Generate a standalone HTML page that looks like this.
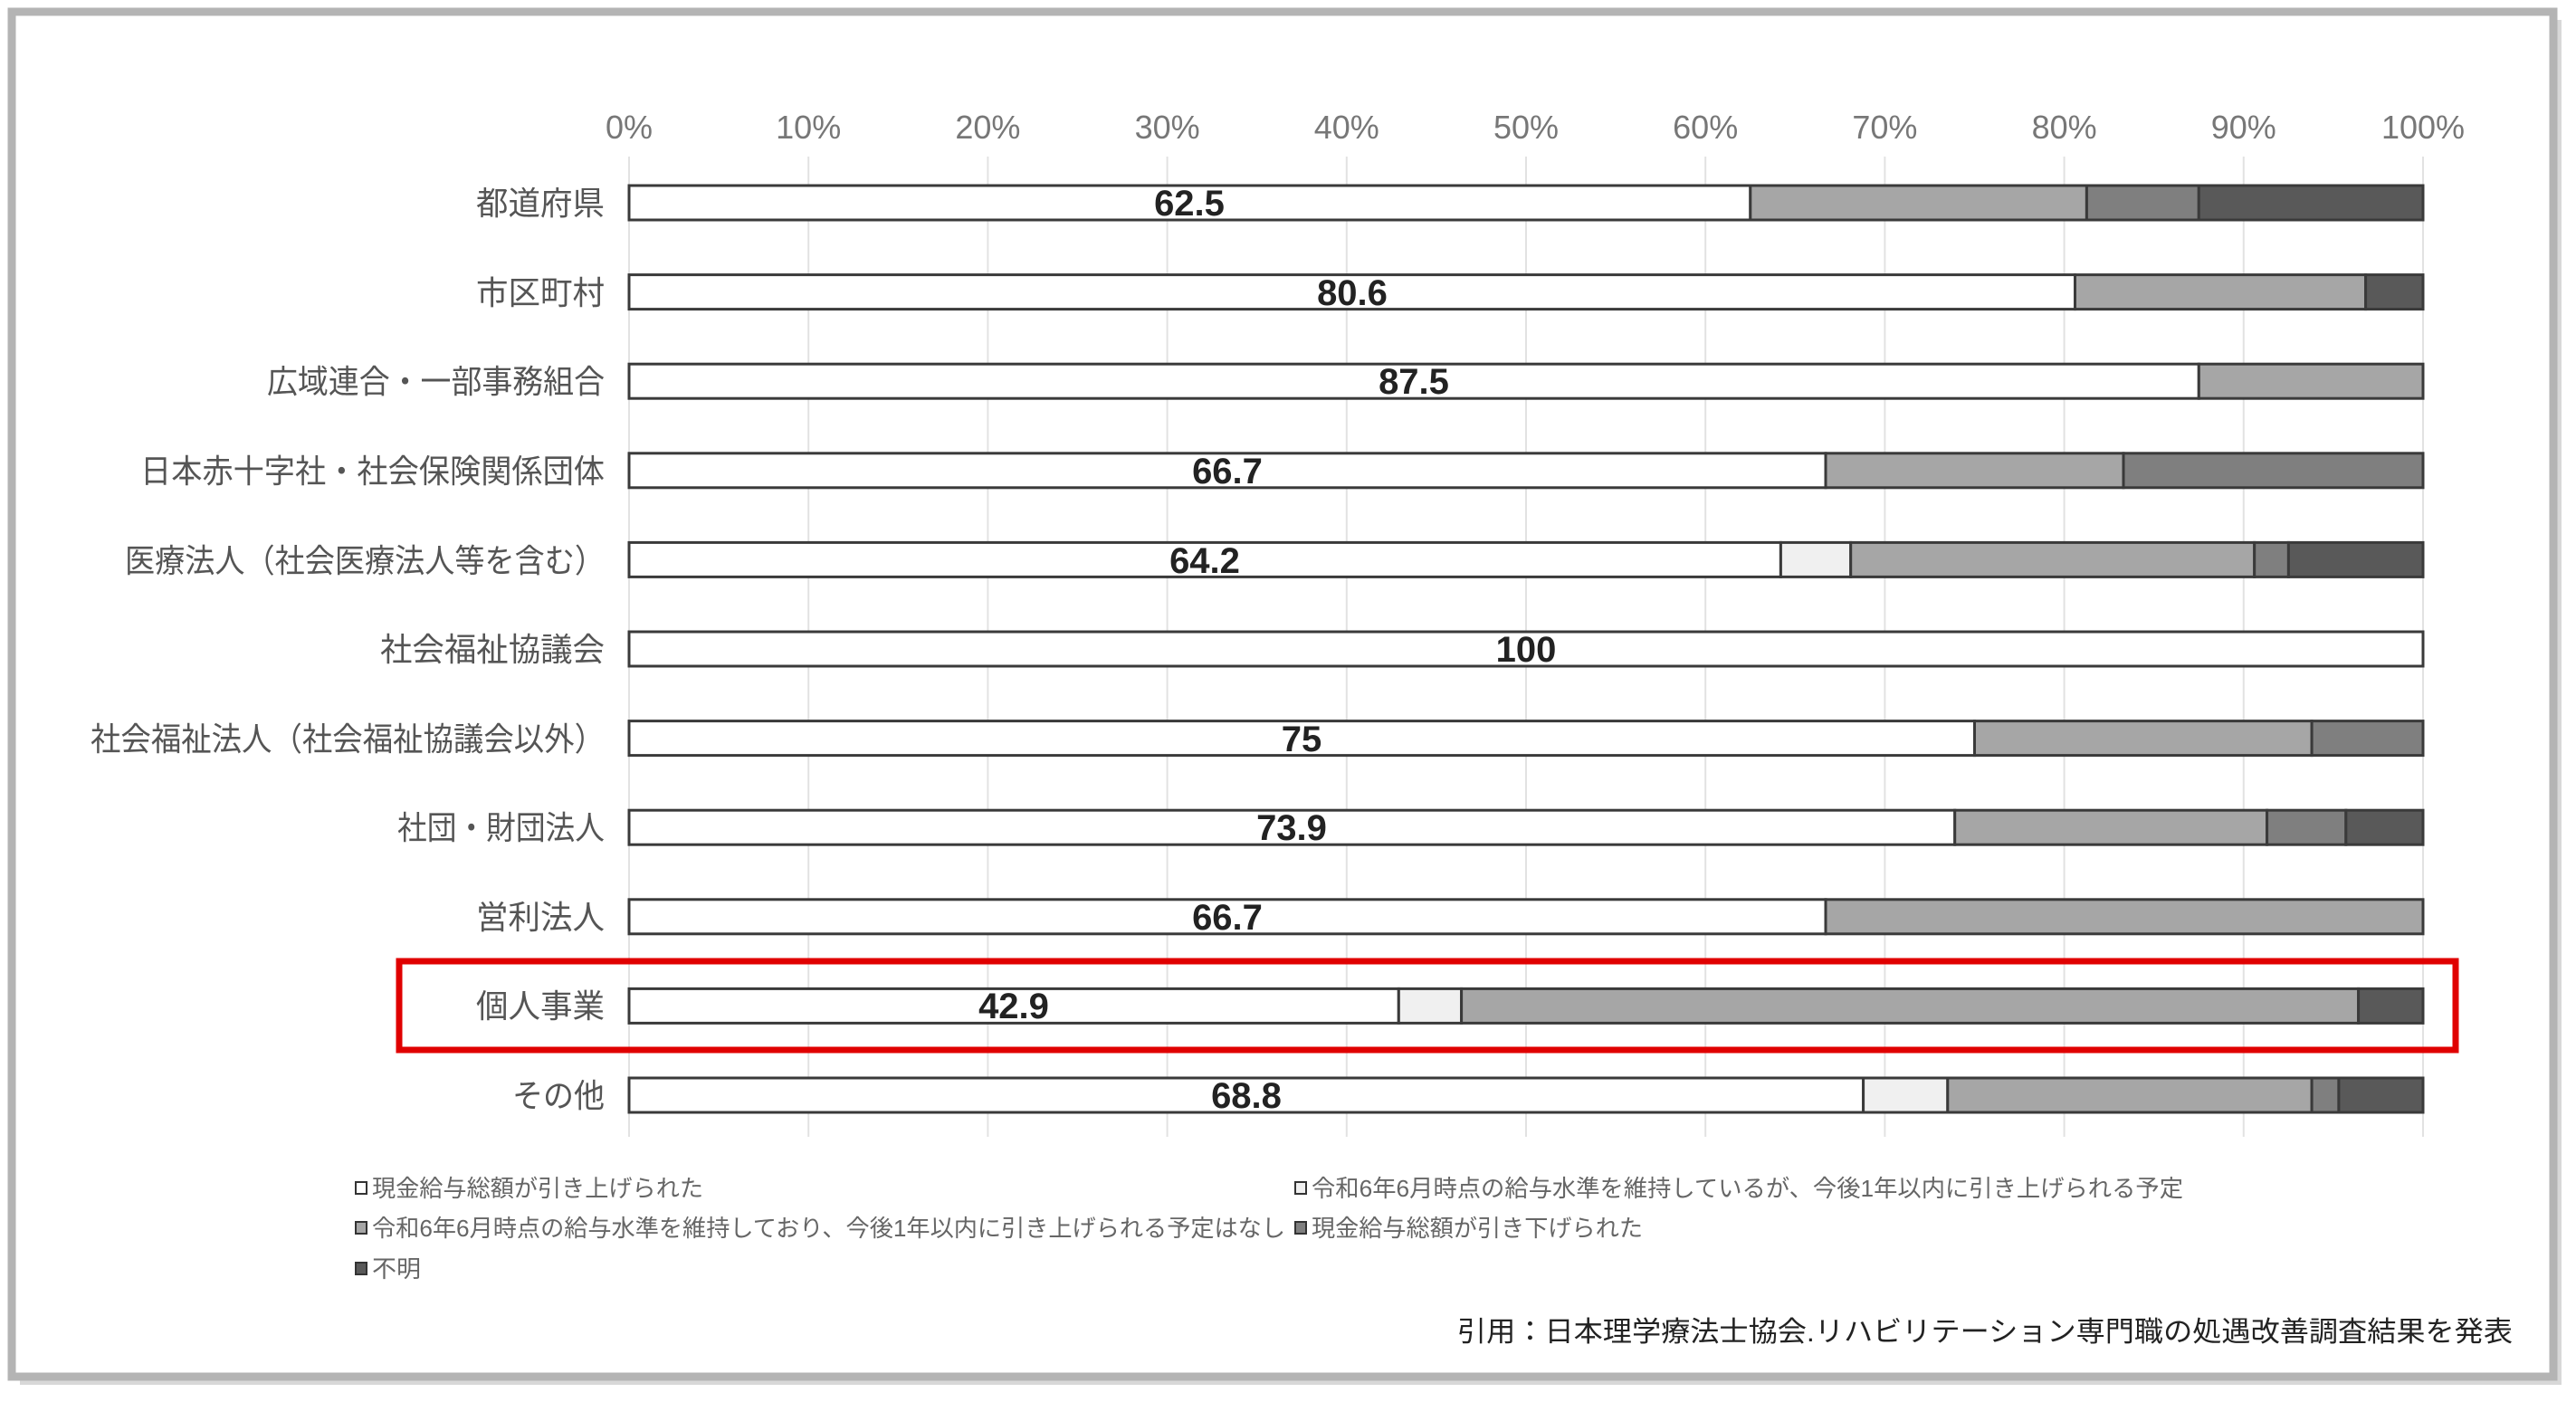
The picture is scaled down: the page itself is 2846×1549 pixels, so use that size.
<!DOCTYPE html>
<html><head><meta charset="utf-8"><style>
html,body{margin:0;padding:0;background:#fff;}
svg{display:block;}
text{font-family:"Liberation Sans","Noto Sans CJK JP",sans-serif;}
</style></head><body>
<svg width="2846" height="1549" viewBox="0 0 2846 1549" xmlns="http://www.w3.org/2000/svg">
<rect width="2846" height="1549" fill="#fff"/>
<!-- shadow + frame -->
<rect x="22" y="22" width="2808" height="1508" fill="#d8d8d8"/>
<rect x="13" y="13" width="2808" height="1508" fill="#fff" stroke="#b4b4b4" stroke-width="9"/>
<!-- gridlines -->
<g stroke="#e2e2e2" stroke-width="2">
<line x1="695" y1="173" x2="695" y2="1256"/><line x1="893.2" y1="173" x2="893.2" y2="1256"/>
<line x1="1091.4" y1="173" x2="1091.4" y2="1256"/><line x1="1289.6" y1="173" x2="1289.6" y2="1256"/>
<line x1="1487.8" y1="173" x2="1487.8" y2="1256"/><line x1="1686" y1="173" x2="1686" y2="1256"/>
<line x1="1884.2" y1="173" x2="1884.2" y2="1256"/><line x1="2082.4" y1="173" x2="2082.4" y2="1256"/>
<line x1="2280.6" y1="173" x2="2280.6" y2="1256"/><line x1="2478.8" y1="173" x2="2478.8" y2="1256"/>
<line x1="2677" y1="173" x2="2677" y2="1256"/>
</g>
<!-- axis labels -->
<g font-size="36" fill="#777" text-anchor="middle">
<text x="695" y="153">0%</text><text x="893.2" y="153">10%</text><text x="1091.4" y="153">20%</text>
<text x="1289.6" y="153">30%</text><text x="1487.8" y="153">40%</text><text x="1686" y="153">50%</text>
<text x="1884.2" y="153">60%</text><text x="2082.4" y="153">70%</text><text x="2280.6" y="153">80%</text>
<text x="2478.8" y="153">90%</text><text x="2677" y="153">100%</text>
</g>
<!-- bars -->
<g stroke="#3a3a3a" stroke-width="3">
<!-- 1 -->
<rect x="695" y="205" width="1238.8" height="38" fill="#fff"/>
<rect x="1933.8" y="205" width="371.6" height="38" fill="#a6a6a6"/>
<rect x="2305.4" y="205" width="123.9" height="38" fill="#7f7f7f"/>
<rect x="2429.3" y="205" width="247.7" height="38" fill="#595959"/>
<!-- 2 -->
<rect x="695" y="303.6" width="1597.5" height="38" fill="#fff"/>
<rect x="2292.5" y="303.6" width="321.1" height="38" fill="#a6a6a6"/>
<rect x="2613.6" y="303.6" width="63.4" height="38" fill="#595959"/>
<!-- 3 -->
<rect x="695" y="402.2" width="1734.3" height="38" fill="#fff"/>
<rect x="2429.3" y="402.2" width="247.7" height="38" fill="#a6a6a6"/>
<!-- 4 -->
<rect x="695" y="500.8" width="1322" height="38" fill="#fff"/>
<rect x="2017" y="500.8" width="329" height="38" fill="#a6a6a6"/>
<rect x="2346" y="500.8" width="331" height="38" fill="#7f7f7f"/>
<!-- 5 -->
<rect x="695" y="599.4" width="1272.4" height="38" fill="#fff"/>
<rect x="1967.4" y="599.4" width="77.3" height="38" fill="#f0f0f0"/>
<rect x="2044.7" y="599.4" width="446" height="38" fill="#a6a6a6"/>
<rect x="2490.7" y="599.4" width="37.7" height="38" fill="#7f7f7f"/>
<rect x="2528.4" y="599.4" width="148.6" height="38" fill="#595959"/>
<!-- 6 -->
<rect x="695" y="698" width="1982" height="38" fill="#fff"/>
<!-- 7 -->
<rect x="695" y="796.6" width="1486.5" height="38" fill="#fff"/>
<rect x="2181.5" y="796.6" width="372.6" height="38" fill="#a6a6a6"/>
<rect x="2554.1" y="796.6" width="122.9" height="38" fill="#7f7f7f"/>
<!-- 8 -->
<rect x="695" y="895.2" width="1464.7" height="38" fill="#fff"/>
<rect x="2159.7" y="895.2" width="344.9" height="38" fill="#a6a6a6"/>
<rect x="2504.6" y="895.2" width="87.2" height="38" fill="#7f7f7f"/>
<rect x="2591.8" y="895.2" width="85.2" height="38" fill="#595959"/>
<!-- 9 -->
<rect x="695" y="993.8" width="1322" height="38" fill="#fff"/>
<rect x="2017" y="993.8" width="660" height="38" fill="#a6a6a6"/>
<!-- 10 -->
<rect x="695" y="1092.4" width="850.3" height="38" fill="#fff"/>
<rect x="1545.3" y="1092.4" width="69.3" height="38" fill="#f0f0f0"/>
<rect x="1614.6" y="1092.4" width="991" height="38" fill="#a6a6a6"/>
<rect x="2605.6" y="1092.4" width="71.4" height="38" fill="#595959"/>
<!-- 11 -->
<rect x="695" y="1191" width="1363.6" height="38" fill="#fff"/>
<rect x="2058.6" y="1191" width="93.2" height="38" fill="#f0f0f0"/>
<rect x="2151.8" y="1191" width="402.3" height="38" fill="#a6a6a6"/>
<rect x="2554.1" y="1191" width="29.8" height="38" fill="#7f7f7f"/>
<rect x="2583.9" y="1191" width="93.1" height="38" fill="#595959"/>
</g>
<!-- value labels -->
<g font-size="40" font-weight="bold" fill="#222" text-anchor="middle">
<text x="1314" y="238">62.5</text>
<text x="1494" y="337">80.6</text>
<text x="1562" y="435">87.5</text>
<text x="1356" y="534">66.7</text>
<text x="1331" y="633">64.2</text>
<text x="1686" y="731">100</text>
<text x="1438" y="830">75</text>
<text x="1427" y="928">73.9</text>
<text x="1356" y="1027">66.7</text>
<text x="1120" y="1125">42.9</text>
<text x="1377" y="1224">68.8</text>
</g>
<!-- category labels -->
<g font-size="36" fill="#555" text-anchor="end">
<text x="668" y="237" textLength="142" lengthAdjust="spacingAndGlyphs">都道府県</text>
<text x="668" y="336" textLength="142" lengthAdjust="spacingAndGlyphs">市区町村</text>
<text x="668" y="434" textLength="373" lengthAdjust="spacingAndGlyphs">広域連合・一部事務組合</text>
<text x="668" y="533" textLength="513" lengthAdjust="spacingAndGlyphs">日本赤十字社・社会保険関係団体</text>
<text x="668" y="632" textLength="530" lengthAdjust="spacingAndGlyphs">医療法人（社会医療法人等を含む）</text>
<text x="668" y="730" textLength="248" lengthAdjust="spacingAndGlyphs">社会福祉協議会</text>
<text x="668" y="829" textLength="568" lengthAdjust="spacingAndGlyphs">社会福祉法人（社会福祉協議会以外）</text>
<text x="668" y="927" textLength="229" lengthAdjust="spacingAndGlyphs">社団・財団法人</text>
<text x="668" y="1026" textLength="142" lengthAdjust="spacingAndGlyphs">営利法人</text>
<text x="668" y="1124" textLength="142" lengthAdjust="spacingAndGlyphs">個人事業</text>
<text x="668" y="1223" textLength="102" lengthAdjust="spacingAndGlyphs">その他</text>
</g>
<!-- red highlight -->
<rect x="441" y="1062" width="2272" height="98" fill="none" stroke="#e00000" stroke-width="7"/>
<!-- legend -->
<g stroke="#333" stroke-width="2">
<rect x="393" y="1306" width="12" height="13" fill="#fff"/>
<rect x="1431" y="1306" width="12" height="13" fill="#f0f0f0"/>
<rect x="393" y="1350" width="12" height="13" fill="#a6a6a6"/>
<rect x="1431" y="1350" width="12" height="13" fill="#7f7f7f"/>
<rect x="393" y="1395" width="12" height="13" fill="#595959"/>
</g>
<g font-size="26" fill="#666">
<text x="411" y="1322" textLength="366" lengthAdjust="spacingAndGlyphs">現金給与総額が引き上げられた</text>
<text x="1449" y="1322" textLength="963" lengthAdjust="spacingAndGlyphs">令和6年6月時点の給与水準を維持しているが、今後1年以内に引き上げられる予定</text>
<text x="411" y="1366" textLength="1009" lengthAdjust="spacingAndGlyphs">令和6年6月時点の給与水準を維持しており、今後1年以内に引き上げられる予定はなし</text>
<text x="1449" y="1366" textLength="366" lengthAdjust="spacingAndGlyphs">現金給与総額が引き下げられた</text>
<text x="411" y="1411" textLength="54" lengthAdjust="spacingAndGlyphs">不明</text>
</g>
<!-- citation -->
<text x="2776" y="1482" font-size="31" fill="#222" text-anchor="end" textLength="1166" lengthAdjust="spacingAndGlyphs">引用：日本理学療法士協会.リハビリテーション専門職の処遇改善調査結果を発表</text>
</svg>
</body></html>
